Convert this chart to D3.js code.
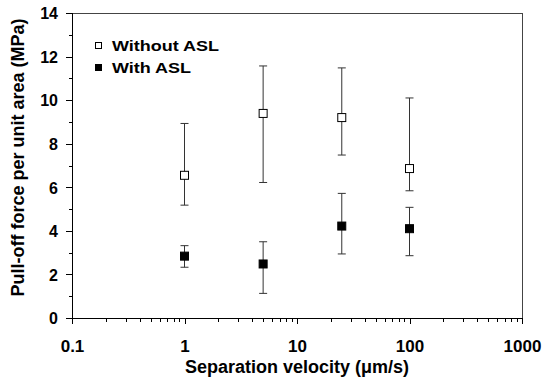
<!DOCTYPE html>
<html>
<head>
    <meta charset="utf-8">
    <title>Pull-off force</title>
    <script type="text/javascript" src="https://cdn.jsdelivr.net/npm/d3@7"></script>
</head>
<body style="margin:0; background:#fff;">
</body>
<style>
text {
    font-family: "Liberation Sans", Arial, sans-serif;
    font-weight: bold;
    fill: #000;
}
.axis path,
.axis line {
    fill: none;
    stroke: #000;
    shape-rendering: crispEdges;
}
</style>
<script>

// data
var velocity = [1, 5, 25, 100];
var withoutMean = [6.55, 9.39, 9.2, 6.86];
var withoutHi = [8.93, 11.57, 11.48, 10.1];
var withoutLo = [5.18, 6.22, 7.48, 5.84];
var withMean = [2.84, 2.48, 4.22, 4.1];
var withHi = [3.32, 3.5, 5.72, 5.08];
var withLo = [2.33, 1.13, 2.94, 2.86];
var xTicks = [0.1, 1, 10, 100, 1000];
var yTicks = [0, 2, 4, 6, 8, 10, 12, 14];

var margin = {top: 13, right: 32, bottom: 64, left: 72}
  , width = 554 - margin.left - margin.right
  , height = 382 - margin.top - margin.bottom;

var svg = d3.select("body").append("svg")
    .attr("width", 554)
    .attr("height", 382)
  .append("g")
    .attr("transform", "translate(" + margin.left + "," + margin.top + ")");

var xScale = d3.scaleLog()
    .domain([0.1, 1000])
    .range([0, width]);

var yScale = d3.scaleLinear()
    .domain([0, 14])
    .range([height, 0]);

// frame (top and right)
svg.append("line")
    .attr("x1", 0).attr("x2", width).attr("y1", 0).attr("y2", 0)
    .attr("stroke", "#444").attr("stroke-width", 1)
    .style("shape-rendering", "crispEdges");
svg.append("line")
    .attr("x1", width).attr("x2", width).attr("y1", 0).attr("y2", height)
    .attr("stroke", "#444").attr("stroke-width", 1)
    .style("shape-rendering", "crispEdges");

// minor ticks on the log axis
var minor = [];
for (var e = -1; e < 3; e++) {
    for (var k = 2; k < 10; k++) minor.push(k * Math.pow(10, e));
}

svg.append("g")
    .attr("class", "axis")
    .attr("transform", "translate(0," + height + ")")
    .call(d3.axisBottom(xScale).tickValues(minor).tickSize(4).tickFormat(""));

svg.append("g")
    .attr("class", "x axis")
    .attr("transform", "translate(0," + height + ")")
    .call(d3.axisBottom(xScale)
        .tickValues(xTicks)
        .tickSize(6)
        .tickPadding(16)
        .tickFormat(function(d) { return d < 1 ? "0.1" : d3.format("d")(d); }))
    .selectAll("text")
    .style("font-size", "17px");

svg.append("g")
    .attr("class", "axis")
    .call(d3.axisLeft(yScale).tickValues([1, 3, 5, 7, 9, 11, 13]).tickSize(3).tickFormat(""));

svg.append("g")
    .attr("class", "y axis")
    .call(d3.axisLeft(yScale)
        .tickValues(yTicks)
        .tickSize(6)
        .tickPadding(8))
    .selectAll("text")
    .style("font-size", "16px")
    .attr("dy", "0.36em");

svg.selectAll(".domain").attr("stroke-width", 1);

// axis titles
svg.append("text")
    .attr("x", width / 2)
    .attr("y", height + 55)
    .attr("text-anchor", "middle")
    .style("font-size", "18px")
    .text("Separation velocity (\u03bcm/s)");

svg.append("text")
    .attr("transform", "rotate(-90)")
    .attr("x", -(height / 2) + 8)
    .attr("y", -48)
    .attr("text-anchor", "middle")
    .style("font-size", "18px")
    .text("Pull-off force per unit area (MPa)");

// error bars
function drawSeries(mean, hi, lo, filled, size) {
    var g = svg.append("g");
    var pts = velocity.map(function(v, i) {
        return {x: v, m: mean[i], hi: hi[i], lo: lo[i]};
    });
    g.selectAll(".eb")
        .data(pts)
      .enter().append("line")
        .attr("x1", function(d) { return xScale(d.x); })
        .attr("x2", function(d) { return xScale(d.x); })
        .attr("y1", function(d) { return yScale(d.hi); })
        .attr("y2", function(d) { return yScale(d.lo); })
        .attr("stroke", "#333")
        .attr("stroke-width", 1);
    ["hi", "lo"].forEach(function(key) {
        g.selectAll(".cap-" + key)
            .data(pts)
          .enter().append("line")
            .attr("x1", function(d) { return xScale(d.x) - 4; })
            .attr("x2", function(d) { return xScale(d.x) + 4; })
            .attr("y1", function(d) { return yScale(d[key]); })
            .attr("y2", function(d) { return yScale(d[key]); })
            .attr("stroke", "#333")
            .attr("stroke-width", 1);
    });
    g.selectAll(".pt")
        .data(pts)
      .enter().append("rect")
        .attr("x", function(d) { return xScale(d.x) - size / 2; })
        .attr("y", function(d) { return yScale(d.m) - size / 2; })
        .attr("width", size)
        .attr("height", size)
        .attr("fill", filled ? "#000" : "#fff")
        .attr("stroke", "#000")
        .attr("stroke-width", 1);
}

drawSeries(withoutMean, withoutHi, withoutLo, false, 8);
drawSeries(withMean, withHi, withLo, true, 8);

// legend (glyphs in the source are drawn wide, so stretch text a bit)
var legend = [["Without ASL", false], ["With ASL", true]];
legend.forEach(function(l, i) {
    svg.append("rect")
        .attr("x", 23.5)
        .attr("y", 29.5 + i * 22)
        .attr("width", 6)
        .attr("height", 6)
        .attr("fill", l[1] ? "#000" : "#fff")
        .attr("stroke", "#000")
        .attr("stroke-width", 1);
    svg.append("text")
        .attr("transform", "translate(40," + (38 + i * 22) + ") scale(1.2,1)")
        .style("font-size", "15px")
        .text(l[0]);
});

</script>
</html>
